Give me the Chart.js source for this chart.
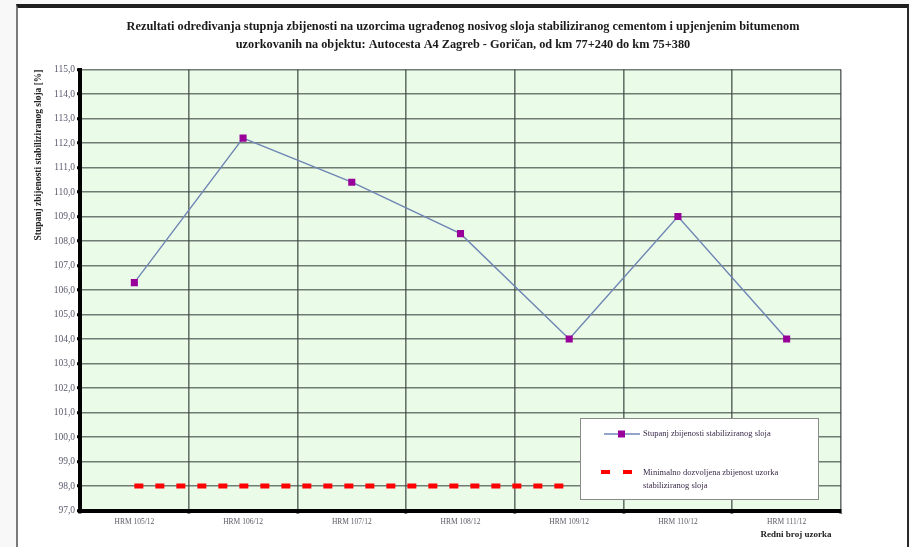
<!DOCTYPE html>
<html>
<head>
<meta charset="utf-8">
<script src="https://cdn.jsdelivr.net/npm/chart.js@4"></script>
<style>
  html, body { margin: 0; padding: 0; }
  body { width: 910px; height: 547px; background: #f8f8f8; position: relative; overflow: hidden; }
  #frame {
    position: absolute; left: 16px; top: 4px; width: 889px; height: 548px;
    background: #ffffff;
    border-top: 4px solid #1e1e1e;
    border-left: 2px solid #7a7a7a;
    border-right: 2px solid #2a2a2a;
  }
  #wrap { position: absolute; left: 0; top: 0; width: 910px; height: 547px; }
</style>
</head>
<body>
<div id="frame"></div>
<div id="wrap"><canvas id="chart" width="910" height="547"></canvas></div>
<script>
// Sample labels (x axis)
const categories = ['HRM 105/12', 'HRM 106/12', 'HRM 107/12', 'HRM 108/12', 'HRM 109/12', 'HRM 110/12', 'HRM 111/12'];
// Degree of compaction per sample [%]
const compactionValues = [106.3, 112.2, 110.4, 108.3, 104.0, 109.0, 104.0];
// Minimum allowed compaction [%]
const minimumValues = [98.0, 98.0, 98.0, 98.0, 98.0, null, null];
// Y axis range
const yMin = 97, yMax = 115, yStep = 1;

const titleLines = [
  'Rezultati određivanja stupnja zbijenosti na uzorcima ugrađenog nosivog sloja stabiliziranog cementom i upjenjenim bitumenom',
  'uzorkovanih na objektu: Autocesta A4 Zagreb - Goričan, od km 77+240 do km 75+380'
];
const yTitle = 'Stupanj zbijenosti stabiliziranog sloja [%]';
const xTitle = 'Redni broj uzorka';
const legendItems = [
  ['Stupanj zbijenosti stabiliziranog sloja'],
  ['Minimalno dozvoljena zbijenost uzorka', 'stabiliziranog sloja']
];

const SERIF = '"Liberation Serif", "DejaVu Serif", serif';

const plotBackground = {
  id: 'plotBackground',
  beforeDraw(chart) {
    const { ctx, chartArea: a } = chart;
    ctx.save();
    ctx.fillStyle = '#eafce8';
    ctx.fillRect(a.left, a.top, a.right - a.left, a.bottom - a.top);
    ctx.restore();
  }
};

const decorations = {
  id: 'decorations',
  afterDraw(chart) {
    const { ctx } = chart;
    ctx.save();
    // Title
    ctx.fillStyle = '#1a1a1a';
    ctx.font = 'bold 12.3px ' + SERIF;
    ctx.textAlign = 'center';
    ctx.textBaseline = 'middle';
    ctx.fillText(titleLines[0], 463, 27);
    ctx.fillText(titleLines[1], 463, 45);

    // Y axis title
    ctx.save();
    ctx.translate(39, 155);
    ctx.rotate(-Math.PI / 2);
    ctx.font = 'bold 9.5px ' + SERIF;
    ctx.fillStyle = '#222';
    ctx.fillText(yTitle, 0, 0);
    ctx.restore();

    // X axis title
    ctx.font = 'bold 9px ' + SERIF;
    ctx.fillStyle = '#222';
    ctx.fillText(xTitle, 796, 535);

    // Legend box
    const bx = 580.5, by = 418.5, bw = 238, bh = 81;
    ctx.fillStyle = '#ffffff';
    ctx.fillRect(bx, by, bw, bh);
    ctx.strokeStyle = '#8a8a8a';
    ctx.lineWidth = 1;
    ctx.strokeRect(bx, by, bw, bh);

    // Entry 1: line with square marker
    const ds0 = chart.data.datasets[0];
    ctx.strokeStyle = ds0.borderColor;
    ctx.lineWidth = 1.5;
    ctx.beginPath();
    ctx.moveTo(604, 434);
    ctx.lineTo(640, 434);
    ctx.stroke();
    ctx.fillStyle = ds0.pointBackgroundColor;
    ctx.fillRect(618, 430.5, 7, 7);

    // Entry 2: red dashes
    ctx.fillStyle = chart.data.datasets[1].borderColor;
    ctx.fillRect(601, 470, 9, 4);
    ctx.fillRect(623, 470, 9, 4);

    ctx.fillStyle = '#3a2a4a';
    ctx.font = '8.5px ' + SERIF;
    ctx.textAlign = 'left';
    ctx.fillText(legendItems[0][0], 643, 434);
    ctx.fillText(legendItems[1][0], 643, 473);
    ctx.fillText(legendItems[1][1], 643, 486);
    ctx.restore();
  }
};

new Chart(document.getElementById('chart'), {
  type: 'line',
  data: {
    labels: categories,
    datasets: [
      {
        label: legendItems[0][0],
        data: compactionValues,
        borderColor: '#6f86b4',
        borderWidth: 1.4,
        pointStyle: 'rect',
        pointRadius: 5,
        pointHoverRadius: 5,
        pointBackgroundColor: '#990099',
        pointBorderColor: '#990099',
        pointBorderWidth: 0,
        tension: 0,
        order: 1
      },
      {
        label: legendItems[1].join(' '),
        data: minimumValues,
        borderColor: '#ff0000',
        borderWidth: 5,
        borderDash: [9, 12],
        borderCapStyle: 'butt',
        pointRadius: 0,
        pointHoverRadius: 0,
        spanGaps: false,
        tension: 0,
        order: 2
      }
    ]
  },
  options: {
    responsive: false,
    animation: false,
    events: [],
    layout: { padding: { top: 69.5, right: 69, bottom: 0, left: 0 } },
    plugins: {
      legend: { display: false },
      title: { display: false },
      tooltip: { enabled: false }
    },
    scales: {
      x: {
        offset: true,
        grid: {
          offset: true,
          color: 'rgba(60,70,65,0.75)',
          lineWidth: 1.6,
          drawTicks: true,
          tickLength: 3,
          tickColor: '#000',
          tickWidth: 3
        },
        border: { color: '#000', width: 4 },
        ticks: {
          color: '#5a5a66',
          font: { family: SERIF, size: 7.5 },
          padding: 4,
          maxRotation: 0,
          autoSkip: false
        },
        afterFit(scale) { scale.height = 36.5; }
      },
      y: {
        min: yMin,
        max: yMax,
        grid: {
          color: 'rgba(60,70,65,0.7)',
          lineWidth: 1.6,
          drawTicks: true,
          tickLength: 3,
          tickColor: '#000',
          tickWidth: 3
        },
        border: { color: '#000', width: 4 },
        ticks: {
          stepSize: yStep,
          color: '#5a5a6e',
          font: { family: SERIF, size: 9.5 },
          padding: 2,
          callback: (v) => v.toFixed(1).replace('.', ',')
        },
        afterFit(scale) { scale.width = 80; }
      }
    }
  },
  plugins: [plotBackground, decorations]
});
</script>
</body>
</html>
